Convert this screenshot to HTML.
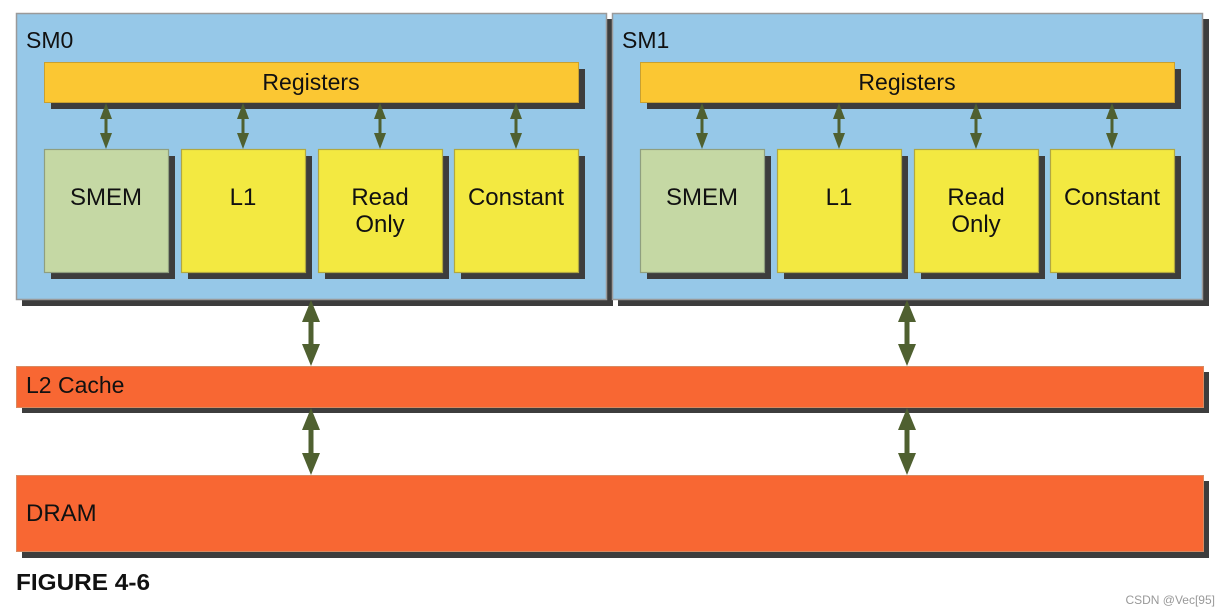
<!DOCTYPE html>
<html><head><meta charset="utf-8"><style>
html,body{margin:0;padding:0;background:#fff;}
svg{display:block;}
text{font-family:"Liberation Sans",sans-serif;fill:#111;}
</style></head><body>
<svg width="1230" height="616" viewBox="0 0 1230 616" xmlns="http://www.w3.org/2000/svg">
<g id="sm">
  <rect x="22" y="19" width="591" height="287" fill="#3d3d3d"/>
  <rect x="16.5" y="13.5" width="590" height="286" fill="#96c8e8" stroke="#9a9a9a" stroke-width="1.5"/>
  <rect x="51" y="69" width="534" height="40" fill="#3d3d3d"/>
  <rect x="44.5" y="62.5" width="534" height="40" fill="#fbc733" stroke="#c9a030" stroke-width="1"/>
  <rect x="51" y="156" width="124" height="123" fill="#3d3d3d"/>
  <rect x="44.5" y="149.5" width="124" height="123" fill="#c5d8a4" stroke="#8f9f7f" stroke-width="1.2"/>
  <rect x="188" y="156" width="124" height="123" fill="#3d3d3d"/>
  <rect x="181.5" y="149.5" width="124" height="123" fill="#f3e941" stroke="#b2a840" stroke-width="1.2"/>
  <rect x="325" y="156" width="124" height="123" fill="#3d3d3d"/>
  <rect x="318.5" y="149.5" width="124" height="123" fill="#f3e941" stroke="#b2a840" stroke-width="1.2"/>
  <rect x="461" y="156" width="124" height="123" fill="#3d3d3d"/>
  <rect x="454.5" y="149.5" width="124" height="123" fill="#f3e941" stroke="#b2a840" stroke-width="1.2"/>
  <g stroke="#4f6030" stroke-width="3" fill="#4f6030">
    <line x1="106" y1="110" x2="106" y2="141"/>
    <line x1="243" y1="110" x2="243" y2="141"/>
    <line x1="380" y1="110" x2="380" y2="141"/>
    <line x1="516" y1="110" x2="516" y2="141"/>
  </g>
  <g fill="#4f6030">
    <polygon points="106,103 100,119 112,119"/><polygon points="106,149 100,133 112,133"/>
    <polygon points="243,103 237,119 249,119"/><polygon points="243,149 237,133 249,133"/>
    <polygon points="380,103 374,119 386,119"/><polygon points="380,149 374,133 386,133"/>
    <polygon points="516,103 510,119 522,119"/><polygon points="516,149 510,133 522,133"/>
  </g>
  <text x="311" y="90" font-size="23" text-anchor="middle">Registers</text>
  <text x="106" y="205" font-size="24" text-anchor="middle">SMEM</text>
  <text x="243" y="205" font-size="24" text-anchor="middle">L1</text>
  <text x="380" y="205" font-size="24" text-anchor="middle">Read</text>
  <text x="380" y="232" font-size="24" text-anchor="middle">Only</text>
  <text x="516" y="205" font-size="24" text-anchor="middle">Constant</text>
</g>
<text x="26" y="48" font-size="23">SM0</text>
<use href="#sm" x="596" y="0"/>
<text x="622" y="48" font-size="23">SM1</text>

<rect x="22" y="372" width="1187" height="41" fill="#3d3d3d"/>
<rect x="16.5" y="366.5" width="1187" height="41" fill="#f86733" stroke="#d88a60" stroke-width="1"/>
<text x="26" y="393" font-size="23">L2 Cache</text>
<rect x="22" y="481" width="1187" height="77" fill="#3d3d3d"/>
<rect x="16.5" y="475.5" width="1187" height="76" fill="#f86733" stroke="#d88a60" stroke-width="1"/>
<text x="26" y="521" font-size="24">DRAM</text>

<g fill="#4f6030" stroke="#4f6030">
  <line x1="311" y1="315" x2="311" y2="352" stroke-width="5"/>
  <polygon points="311,300 302,322 320,322" stroke="none"/>
  <polygon points="311,366 302,344 320,344" stroke="none"/>
  <line x1="907" y1="315" x2="907" y2="352" stroke-width="5"/>
  <polygon points="907,300 898,322 916,322" stroke="none"/>
  <polygon points="907,366 898,344 916,344" stroke="none"/>
  <line x1="311" y1="422" x2="311" y2="460" stroke-width="5"/>
  <polygon points="311,408 302,430 320,430" stroke="none"/>
  <polygon points="311,475 302,453 320,453" stroke="none"/>
  <line x1="907" y1="422" x2="907" y2="460" stroke-width="5"/>
  <polygon points="907,408 898,430 916,430" stroke="none"/>
  <polygon points="907,475 898,453 916,453" stroke="none"/>
</g>

<text x="16" y="590" font-size="23" font-weight="bold" fill="#222" textLength="134" lengthAdjust="spacingAndGlyphs">FIGURE 4-6</text>
<text x="1215" y="604" font-size="12" text-anchor="end" style="fill:#999">CSDN @Vec[95]</text>
</svg>
</body></html>
